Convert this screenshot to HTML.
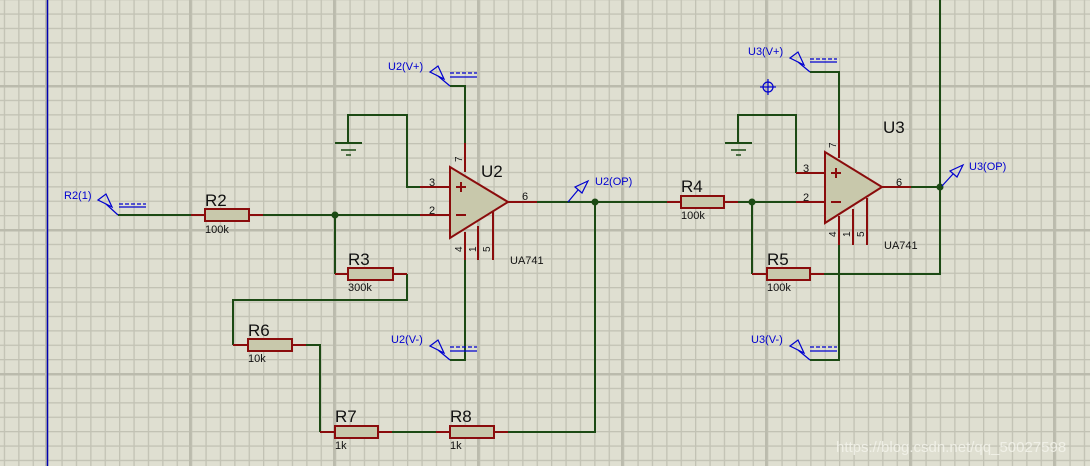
<!DOCTYPE html>
<html><head><meta charset="utf-8"><style>
html,body{margin:0;padding:0;}
body{width:1090px;height:466px;overflow:hidden;background:#dfdfd1;}
svg{position:absolute;left:0;top:0}
text{font-family:"Liberation Sans",sans-serif}
</style></head><body>
<svg width="1090" height="466" viewBox="0 0 1090 466">
<defs>
<pattern id="mn" width="14.4" height="14.4" patternUnits="userSpaceOnUse" x="3.8" y="-1">
<rect x="0" y="0" width="1.3" height="14.4" fill="#c2c2b4"/>
<rect x="0" y="0" width="14.4" height="1.3" fill="#c2c2b4"/>
</pattern>
<pattern id="maj" width="144" height="144" patternUnits="userSpaceOnUse" x="189" y="85">
<rect x="0" y="0" width="2.5" height="144" fill="#bbbbad"/>
<rect x="0" y="0" width="144" height="2.5" fill="#bbbbad"/>
</pattern>
</defs>
<rect width="1090" height="466" fill="url(#mn)"/>
<rect width="1090" height="466" fill="url(#maj)"/>
<line x1="47.5" y1="0" x2="47.5" y2="466" stroke="#0000b0" stroke-width="1.5"/>

<g fill="none" stroke="#1c4a14" stroke-width="2">
<polyline points="118,215 191,215"/>
<polyline points="263,215 420,215"/>
<polyline points="335,215 335,274"/>
<polyline points="407,274 407,300 233,300 233,345"/>
<polyline points="306,345 320,345 320,432"/>
<polyline points="392,432 436,432"/>
<polyline points="508,432 595,432 595,202"/>
<polyline points="420,187 407,187 407,115 348,115 348,143"/>
<polyline points="450,86 465,86 465,143"/>
<polyline points="465,260 465,360 450,360"/>
<polyline points="537,202 667,202"/>
<polyline points="738,202 796,202"/>
<polyline points="752,202 752,274"/>
<polyline points="796,173 796,115 738,115 738,143"/>
<polyline points="810,72 839,72 839,130"/>
<polyline points="839,245 839,360 810,360"/>
<polyline points="911,187 940,187"/>
<polyline points="940,0 940,274 824,274"/>
<line x1="335" y1="143" x2="362" y2="143"/>
<line x1="725" y1="143" x2="752" y2="143"/>
</g>
<g stroke="#1c4a14" stroke-width="1.5">
<line x1="341" y1="150" x2="356" y2="150"/><line x1="346" y1="155" x2="351" y2="155"/>
<line x1="731" y1="150" x2="746" y2="150"/><line x1="736" y1="155" x2="741" y2="155"/>
</g>
<g fill="#1c4a14"><circle cx="335" cy="215" r="3.5"/><circle cx="595" cy="202" r="3.5"/><circle cx="752" cy="202" r="3.5"/><circle cx="940" cy="187" r="3.5"/></g>

<g stroke="#8a0c0c" stroke-width="2" fill="none">
<line x1="191" y1="215" x2="205" y2="215"/><line x1="249" y1="215" x2="263" y2="215"/>
<line x1="335" y1="274" x2="348" y2="274"/><line x1="393" y1="274" x2="407" y2="274"/>
<line x1="233" y1="345" x2="248" y2="345"/><line x1="292" y1="345" x2="306" y2="345"/>
<line x1="320" y1="432" x2="335" y2="432"/><line x1="378" y1="432" x2="392" y2="432"/>
<line x1="436" y1="432" x2="450" y2="432"/><line x1="494" y1="432" x2="508" y2="432"/>
<line x1="667" y1="202" x2="681" y2="202"/><line x1="724" y1="202" x2="738" y2="202"/>
<line x1="752" y1="274" x2="767" y2="274"/><line x1="810" y1="274" x2="824" y2="274"/>
<line x1="420" y1="187" x2="450" y2="187"/><line x1="420" y1="215" x2="450" y2="215"/>
<line x1="465" y1="143" x2="465" y2="172"/><line x1="508" y1="202" x2="537" y2="202"/>
<line x1="465" y1="232" x2="465" y2="260"/><line x1="478" y1="226" x2="478" y2="260"/><line x1="493" y1="212" x2="493" y2="260"/>
<line x1="796" y1="173" x2="825" y2="173"/><line x1="796" y1="202" x2="825" y2="202"/>
<line x1="839" y1="130" x2="839" y2="158"/><line x1="882" y1="187" x2="911" y2="187"/>
<line x1="839" y1="216" x2="839" y2="245"/><line x1="853" y1="209" x2="853" y2="245"/><line x1="867" y1="198" x2="867" y2="245"/>
</g>
<g fill="#c8c8ab" stroke="#8a0c0c" stroke-width="2">
<rect x="205" y="209" width="44" height="12"/>
<rect x="348" y="268" width="45" height="12"/>
<rect x="248" y="339" width="44" height="12"/>
<rect x="335" y="426" width="43" height="12"/>
<rect x="450" y="426" width="44" height="12"/>
<rect x="681" y="196" width="43" height="12"/>
<rect x="767" y="268" width="43" height="12"/>
<polygon points="450,167 450,238 508,202"/>
<polygon points="825,152 825,223 882,187"/>
</g>
<g stroke="#8a0c0c" stroke-width="2">
<line x1="456" y1="187" x2="466" y2="187"/><line x1="461" y1="182" x2="461" y2="192"/><line x1="456" y1="215" x2="466" y2="215"/>
<line x1="831" y1="173" x2="841" y2="173"/><line x1="836" y1="168" x2="836" y2="178"/><line x1="831" y1="202" x2="841" y2="202"/>
</g>

<g stroke="#0000d0" stroke-width="1.2" fill="none">
<polygon points="98,200 106,194 112,207"/><line x1="106" y1="204" x2="118" y2="215"/>
<line x1="119" y1="204" x2="146" y2="204" stroke-dasharray="4,2"/><line x1="119" y1="207" x2="146" y2="207"/>
<polygon points="430,72 438,66 444,79"/><line x1="438" y1="76" x2="450" y2="86"/>
<line x1="450" y1="73" x2="477" y2="73" stroke-dasharray="4,2"/><line x1="450" y1="77" x2="477" y2="77"/>
<polygon points="430,346 438,340 444,353"/><line x1="438" y1="350" x2="450" y2="360"/>
<line x1="450" y1="347" x2="477" y2="347" stroke-dasharray="4,2"/><line x1="450" y1="351" x2="477" y2="351"/>
<polygon points="790,58 798,52 804,65"/><line x1="798" y1="62" x2="810" y2="72"/>
<line x1="810" y1="59" x2="837" y2="59" stroke-dasharray="4,2"/><line x1="810" y1="62" x2="837" y2="62"/>
<polygon points="790,346 798,340 804,353"/><line x1="798" y1="350" x2="810" y2="360"/>
<line x1="810" y1="347" x2="837" y2="347" stroke-dasharray="4,2"/><line x1="810" y1="351" x2="837" y2="351"/>
<polygon points="588,181 582,193 575,187"/><line x1="578" y1="190" x2="568" y2="202"/>
<polygon points="963,165 957,177 950,171"/><line x1="953" y1="174" x2="942" y2="186"/>
<circle cx="768" cy="87" r="5"/><line x1="768" y1="79" x2="768" y2="95"/><line x1="760" y1="87" x2="776" y2="87"/>
</g>
<g fill="#0000d0" font-size="11">
<text x="64" y="199">R2(1)</text>
<text x="388" y="70">U2(V+)</text>
<text x="391" y="343">U2(V-)</text>
<text x="595" y="185">U2(OP)</text>
<text x="748" y="55">U3(V+)</text>
<text x="751" y="343">U3(V-)</text>
<text x="969" y="170">U3(OP)</text>
</g>
<g fill="#111" font-size="17">
<text x="205" y="206">R2</text><text x="348" y="265">R3</text><text x="248" y="336">R6</text>
<text x="335" y="422">R7</text><text x="450" y="422">R8</text><text x="681" y="192">R4</text><text x="767" y="265">R5</text>
<text x="481" y="177">U2</text><text x="883" y="133">U3</text>
</g>
<g fill="#111" font-size="11">
<text x="205" y="233">100k</text><text x="348" y="291">300k</text><text x="248" y="362">10k</text>
<text x="335" y="449">1k</text><text x="450" y="449">1k</text><text x="681" y="219">100k</text><text x="767" y="291">100k</text>
<text x="510" y="264">UA741</text><text x="884" y="249">UA741</text>
<text x="429" y="186">3</text><text x="429" y="214">2</text><text x="522" y="200">6</text>
<text x="803" y="172">3</text><text x="803" y="201">2</text><text x="896" y="186">6</text>
</g>
<g fill="#111" font-size="10">
<text transform="translate(462,162) rotate(-90)">7</text>
<text transform="translate(462,252) rotate(-90)">4</text>
<text transform="translate(476,252) rotate(-90)">1</text>
<text transform="translate(490,252) rotate(-90)">5</text>
<text transform="translate(836,148) rotate(-90)">7</text>
<text transform="translate(836,237) rotate(-90)">4</text>
<text transform="translate(850,237) rotate(-90)">1</text>
<text transform="translate(864,237) rotate(-90)">5</text>
</g>
<text x="836" y="452" font-size="15" fill="#f4f4ec" opacity="0.85">https://blog.csdn.net/qq_50027598</text>
</svg>
</body></html>
